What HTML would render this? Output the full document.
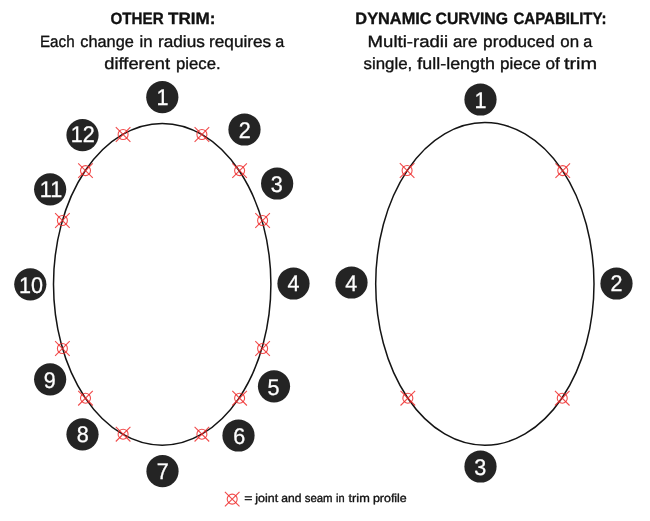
<!DOCTYPE html>
<html><head><meta charset="utf-8"><style>
html,body{margin:0;padding:0;background:#fff;}
body{width:650px;height:521px;overflow:hidden;}
svg{display:block;will-change:transform;}
text{font-family:"Liberation Sans",sans-serif;text-rendering:geometricPrecision;}
</style></head><body>
<svg width="650" height="521" viewBox="0 0 650 521">
<rect width="650" height="521" fill="#fff"/>

<g fill="#111" stroke="#111" stroke-width="0.35" stroke-linejoin="round">
<text x="110.50" y="24" font-size="16.4" font-weight="bold" textLength="53.11" lengthAdjust="spacingAndGlyphs">OTHER</text>
<text x="167.96" y="24" font-size="16.4" font-weight="bold" textLength="47.48" lengthAdjust="spacingAndGlyphs">TRIM:</text>
<text x="39.95" y="47" font-size="16.2" font-weight="normal" textLength="34.67" lengthAdjust="spacingAndGlyphs">Each</text>
<text x="80.31" y="47" font-size="16.2" font-weight="normal" textLength="53.55" lengthAdjust="spacingAndGlyphs">change</text>
<text x="139.59" y="47" font-size="16.2" font-weight="normal" textLength="13.06" lengthAdjust="spacingAndGlyphs">in</text>
<text x="157.97" y="47" font-size="16.2" font-weight="normal" textLength="46.84" lengthAdjust="spacingAndGlyphs">radius</text>
<text x="209.06" y="47" font-size="16.2" font-weight="normal" textLength="62.13" lengthAdjust="spacingAndGlyphs">requires</text>
<text x="275.20" y="47" font-size="16.2" font-weight="normal">a</text>
<text x="104.38" y="69" font-size="16.2" font-weight="normal" textLength="65.67" lengthAdjust="spacingAndGlyphs">different</text>
<text x="176.05" y="69" font-size="16.2" font-weight="normal" textLength="44.58" lengthAdjust="spacingAndGlyphs">piece.</text>
<text x="355.36" y="24" font-size="16.4" font-weight="bold" textLength="76.30" lengthAdjust="spacingAndGlyphs">DYNAMIC</text>
<text x="435.51" y="24" font-size="16.4" font-weight="bold" textLength="72.46" lengthAdjust="spacingAndGlyphs">CURVING</text>
<text x="513.41" y="24" font-size="16.4" font-weight="bold" textLength="93.06" lengthAdjust="spacingAndGlyphs">CAPABILITY:</text>
<text x="367.58" y="47" font-size="16.2" font-weight="normal" textLength="80.55" lengthAdjust="spacingAndGlyphs">Multi-radii</text>
<text x="452.94" y="47" font-size="16.2" font-weight="normal" textLength="24.41" lengthAdjust="spacingAndGlyphs">are</text>
<text x="483.12" y="47" font-size="16.2" font-weight="normal" textLength="71.62" lengthAdjust="spacingAndGlyphs">produced</text>
<text x="560.25" y="47" font-size="16.2" font-weight="normal" textLength="18.79" lengthAdjust="spacingAndGlyphs">on</text>
<text x="583.22" y="47" font-size="16.2" font-weight="normal">a</text>
<text x="363.53" y="69" font-size="16.2" font-weight="normal" textLength="48.74" lengthAdjust="spacingAndGlyphs">single,</text>
<text x="417.30" y="69" font-size="16.2" font-weight="normal" textLength="77.66" lengthAdjust="spacingAndGlyphs">full-length</text>
<text x="499.96" y="69" font-size="16.2" font-weight="normal" textLength="40.71" lengthAdjust="spacingAndGlyphs">piece</text>
<text x="545.58" y="69" font-size="16.2" font-weight="normal" textLength="14.31" lengthAdjust="spacingAndGlyphs">of</text>
<text x="563.93" y="69" font-size="16.2" font-weight="normal" textLength="33.25" lengthAdjust="spacingAndGlyphs">trim</text>
<text x="244.30" y="502" font-size="11.6" font-weight="normal" textLength="8.20" lengthAdjust="spacingAndGlyphs">=</text>
<text x="255.32" y="502" font-size="11.6" font-weight="normal" textLength="22.89" lengthAdjust="spacingAndGlyphs">joint</text>
<text x="281.32" y="502" font-size="11.6" font-weight="normal" textLength="20.20" lengthAdjust="spacingAndGlyphs">and</text>
<text x="304.78" y="502" font-size="11.6" font-weight="normal" textLength="27.83" lengthAdjust="spacingAndGlyphs">seam</text>
<text x="336.02" y="502" font-size="11.6" font-weight="normal" textLength="8.58" lengthAdjust="spacingAndGlyphs">in</text>
<text x="348.57" y="502" font-size="11.6" font-weight="normal" textLength="21.23" lengthAdjust="spacingAndGlyphs">trim</text>
<text x="372.95" y="502" font-size="11.6" font-weight="normal" textLength="33.81" lengthAdjust="spacingAndGlyphs">profile</text>
</g>
<g fill="none" stroke="#141414" stroke-width="1.5">
<ellipse cx="162.2" cy="284.3" rx="108.7" ry="160.9"/>
<ellipse cx="484.85" cy="283.9" rx="109.15" ry="161.35"/>
</g>
<g fill="none" stroke="#ee2b2b" stroke-width="1.1" stroke-opacity="0.85">
<circle cx="123.1" cy="134.5" r="5.0" fill="none"/><path d="M115.80 127.20L130.40 141.80M130.40 127.20L115.80 141.80"/>
<circle cx="201.9" cy="134.5" r="5.0" fill="none"/><path d="M194.60 127.20L209.20 141.80M209.20 127.20L194.60 141.80"/>
<circle cx="239.6" cy="170.6" r="5.0" fill="none"/><path d="M232.30 163.30L246.90 177.90M246.90 163.30L232.30 177.90"/>
<circle cx="262.6" cy="220.5" r="5.0" fill="none"/><path d="M255.30 213.20L269.90 227.80M269.90 213.20L255.30 227.80"/>
<circle cx="262.6" cy="348.5" r="5.0" fill="none"/><path d="M255.30 341.20L269.90 355.80M269.90 341.20L255.30 355.80"/>
<circle cx="239.6" cy="398.2" r="5.0" fill="none"/><path d="M232.30 390.90L246.90 405.50M246.90 390.90L232.30 405.50"/>
<circle cx="201.9" cy="434.2" r="5.0" fill="none"/><path d="M194.60 426.90L209.20 441.50M209.20 426.90L194.60 441.50"/>
<circle cx="123.1" cy="434.2" r="5.0" fill="none"/><path d="M115.80 426.90L130.40 441.50M130.40 426.90L115.80 441.50"/>
<circle cx="85.5" cy="398.2" r="5.0" fill="none"/><path d="M78.20 390.90L92.80 405.50M92.80 390.90L78.20 405.50"/>
<circle cx="62.4" cy="348.5" r="5.0" fill="none"/><path d="M55.10 341.20L69.70 355.80M69.70 341.20L55.10 355.80"/>
<circle cx="62.4" cy="220.5" r="5.0" fill="none"/><path d="M55.10 213.20L69.70 227.80M69.70 213.20L55.10 227.80"/>
<circle cx="85.5" cy="170.6" r="5.0" fill="none"/><path d="M78.20 163.30L92.80 177.90M92.80 163.30L78.20 177.90"/>
<circle cx="407.1" cy="170.5" r="5.0" fill="none"/><path d="M399.80 163.20L414.40 177.80M414.40 163.20L399.80 177.80"/>
<circle cx="562.75" cy="170.6" r="5.0" fill="none"/><path d="M555.45 163.30L570.05 177.90M570.05 163.30L555.45 177.90"/>
<circle cx="407.85" cy="398.2" r="5.0" fill="none"/><path d="M400.55 390.90L415.15 405.50M415.15 390.90L400.55 405.50"/>
<circle cx="562.25" cy="398.2" r="5.0" fill="none"/><path d="M554.95 390.90L569.55 405.50M569.55 390.90L554.95 405.50"/>
<circle cx="232.2" cy="499.1" r="5.0" fill="none"/><path d="M224.90 491.80L239.50 506.40M239.50 491.80L224.90 506.40"/>
</g>
<g>
<circle cx="162.3" cy="97.2" r="16.1" fill="#242424"/>
<circle cx="244.5" cy="129.5" r="16.1" fill="#242424"/>
<circle cx="277.15" cy="183.5" r="16.1" fill="#242424"/>
<circle cx="293.5" cy="283.5" r="16.1" fill="#242424"/>
<circle cx="274" cy="386.3" r="16.1" fill="#242424"/>
<circle cx="238.5" cy="435.5" r="16.1" fill="#242424"/>
<circle cx="162.5" cy="471.2" r="16.1" fill="#242424"/>
<circle cx="82.5" cy="434.3" r="16.1" fill="#242424"/>
<circle cx="50.15" cy="379.3" r="16.1" fill="#242424"/>
<circle cx="30.3" cy="284.3" r="16.1" fill="#242424"/>
<circle cx="50.15" cy="189.3" r="16.1" fill="#242424"/>
<circle cx="82.5" cy="135.1" r="16.1" fill="#242424"/>
<circle cx="480.5" cy="99.5" r="16.1" fill="#242424"/>
<circle cx="616.5" cy="283.5" r="16.1" fill="#242424"/>
<circle cx="480.5" cy="466.5" r="16.1" fill="#242424"/>
<circle cx="351.5" cy="282.5" r="16.1" fill="#242424"/>
</g>
<g fill="#fff" stroke="#fff" stroke-width="0.3" font-size="22.7" text-anchor="middle">
<text transform="translate(162.6 105.45) scale(0.95 1)">1</text>
<text transform="translate(244.8 137.75) scale(0.95 1)">2</text>
<text transform="translate(276.85 191.90) scale(0.95 1)">3</text>
<text transform="translate(293.6 291.40) scale(0.95 1)">4</text>
<text transform="translate(273.5 394.60) scale(0.95 1)">5</text>
<text transform="translate(239.25 443.60) scale(0.95 1)">6</text>
<text transform="translate(162.8 479.40) scale(0.95 1)">7</text>
<text transform="translate(82.8 442.30) scale(0.95 1)">8</text>
<text transform="translate(49.8 387.75) scale(0.95 1)">9</text>
<text transform="translate(30.95 292.60) scale(0.95 1)">10</text>
<text transform="translate(50.95 196.50) scale(0.95 1)">11</text>
<text transform="translate(82.85 141.85) scale(0.95 1)">12</text>
<text transform="translate(480.5 107.60) scale(0.95 1)">1</text>
<text transform="translate(616.45 291.30) scale(0.95 1)">2</text>
<text transform="translate(480.15 474.60) scale(0.95 1)">3</text>
<text transform="translate(351.3 290.60) scale(0.95 1)">4</text>
</g>
</svg>
</body></html>
